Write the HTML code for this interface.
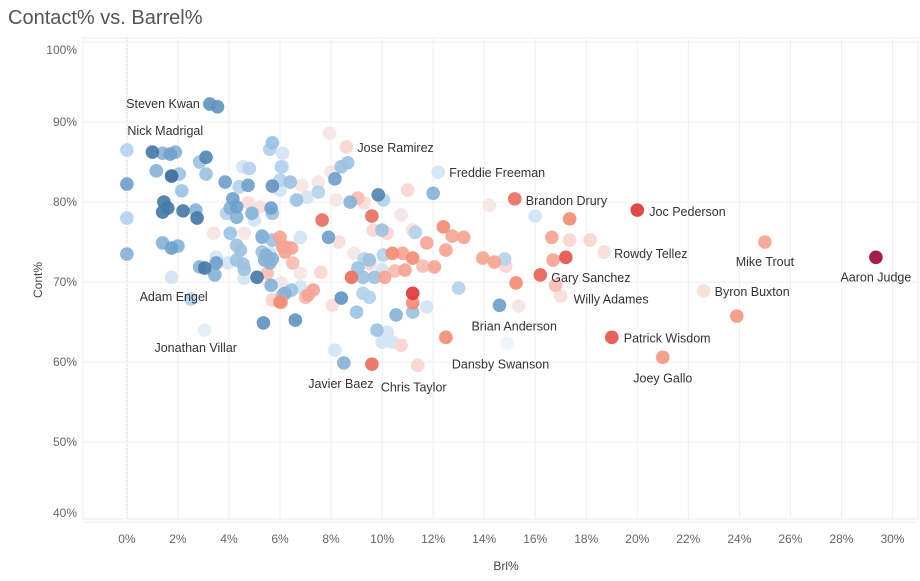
<!DOCTYPE html>
<html><head><meta charset="utf-8"><style>
body{margin:0;background:#fff;}
svg{display:block;font-family:"Liberation Sans",sans-serif;}
</style></head><body>
<svg id="chart" width="920" height="581">
<text x="8" y="24" font-size="20" fill="#555">Contact% vs. Barrel%</text>
<g id="grid"></g><g id="pts"></g><g id="lbls"></g><g id="axes"></g>
<text x="506" y="570" font-size="12" fill="#444" text-anchor="middle">Brl%</text>
<text transform="translate(42,280) rotate(-90)" font-size="12" fill="#444" text-anchor="middle">Cont%</text>
</svg>
<script>
const xTicks=[0,2,4,6,8,10,12,14,16,18,20,22,24,26,28,30];
const yTicks=[40,50,60,70,80,90,100];
const brl=[3.25,3.55,1.0,8.6,12.2,15.2,20.0,18.7,25.0,29.35,16.2,16.8,22.6,23.9,19.0,21.0,12.5,11.4,9.6,8.5,2.5,3.05,
0,0,0,0,1.4,1.7,1.9,1.15,1.75,2.05,2.15,3.1,2.85,3.1,3.85,4.4,4.75,4.55,4.8,1.45,1.6,1.4,2.2,2.7,2.75,4.15,4.3,4.05,4.3,3.9,4.75,5.2,4.9,5.0,5.65,5.7,5.7,6.0,6.1,5.7,5.6,6.1,
3.4,4.05,4.6,5.3,5.7,6.1,6.0,1.4,1.75,2.0,3.5,3.5,3.95,4.3,4.45,4.6,4.6,2.85,3.05,3.45,1.75,5.1,5.4,5.6,5.65,5.5,6.05,6.0,6.2,5.7,5.35,6.6,
6.05,6.4,6.0,6.85,6.65,7.05,7.5,7.5,8.15,8.4,8.65,8.0,7.95,8.2,8.75,9.05,9.3,9.85,10.05,11.0,12.0,10.75,7.65,9.6,9.65,10.2,10.0,11.2,11.3,12.4,12.75,12.5,11.75,
7.9,8.3,6.8,6.45,6.2,4.3,5.3,8.8,8.4,8.05,9.0,9.25,9.5,9.7,9.25,9.05,9.9,10.1,9.5,10.05,9.5,10.4,10.8,11.2,10.9,10.5,10.0,11.2,11.2,11.2,11.75,10.55,9.8,10.2,10.0,10.4,10.75,8.15,
12.05,11.6,13.0,6.1,6.45,7.1,7.3,5.7,6.05,6.8,4.55,6.8,5.7,5.45,5.3,5.6,6.5,6.2,
13.2,14.2,13.95,14.4,14.85,15.25,14.8,14.6,15.35,14.9,16.0,16.65,17.35,17.35,16.7,17.2,18.15,17.0,7.0,7.6,8.9,9.3];
const cont=[92.25,91.9,86.25,86.9,83.75,80.4,79.0,73.75,75.0,73.1,70.9,69.6,68.9,65.75,63.1,60.6,63.1,59.6,59.75,59.9,67.9,64.0,
86.5,82.25,78.0,73.5,86.1,86.0,86.25,83.9,83.25,83.5,81.4,85.6,85.0,83.5,82.5,81.9,82.1,84.4,84.2,80.0,79.25,78.75,78.9,79.0,78.0,80.4,79.4,79.25,78.1,78.6,79.9,79.4,78.6,77.75,79.25,78.6,82.0,82.75,84.4,87.4,86.6,86.1,
76.1,76.1,76.1,75.6,75.25,74.4,75.6,74.9,74.25,74.5,73.1,72.4,72.4,72.75,74.0,71.6,70.5,71.9,71.75,70.9,70.6,70.6,72.75,72.4,69.6,71.1,69.9,67.5,68.6,67.75,64.9,65.25,
84.4,82.5,81.5,82.1,80.25,80.6,82.5,81.25,82.9,84.4,84.9,83.75,88.6,80.25,80.0,80.5,79.9,80.9,80.25,81.5,81.1,78.4,77.75,78.25,76.5,76.1,76.5,76.5,76.2,76.9,75.75,74.0,74.9,
75.6,75.0,75.6,74.25,74.4,74.6,75.75,70.6,68.0,67.1,66.25,68.6,68.1,70.6,70.6,71.75,71.9,70.6,72.75,73.4,72.3,73.6,73.6,73.0,71.5,71.4,71.5,68.6,67.4,66.25,66.9,65.9,64.0,63.75,62.5,62.5,62.1,61.5,
71.9,72.0,69.25,68.4,69.0,68.4,69.0,67.75,67.5,69.4,72.25,71.1,72.9,73.4,73.75,73.6,72.4,73.75,
75.6,79.6,73.0,72.5,72.0,69.9,72.9,67.1,67.0,62.4,78.25,75.6,77.9,75.25,72.75,73.1,75.25,68.25,68.1,71.2,73.6,72.9];
const colorVal=[-0.6,-0.6,-0.8,0.2,-0.1,0.6,0.8,0.15,0.4,1.0,0.65,0.3,0.15,0.45,0.7,0.45,0.5,0.2,0.6,-0.4,-0.2,-0.05,
-0.2,-0.5,-0.2,-0.4,-0.4,-0.5,-0.4,-0.4,-0.9,-0.3,-0.3,-0.7,-0.3,-0.3,-0.5,-0.2,-0.5,-0.1,-0.2,-0.8,-0.8,-0.8,-0.8,-0.4,-0.8,-0.5,-0.5,-0.4,-0.4,-0.2,0.15,0.15,-0.4,-0.1,-0.5,-0.3,-0.6,-0.2,-0.1,-0.3,-0.2,-0.1,
0.1,-0.3,0.1,-0.4,-0.3,0.4,0.4,-0.4,-0.5,-0.4,-0.1,-0.5,-0.1,-0.3,-0.3,-0.3,-0.1,-0.4,-0.8,-0.4,-0.1,-0.8,-0.4,-0.4,-0.4,0.3,0.1,0.5,-0.4,0.2,-0.6,-0.6,
-0.2,-0.3,-0.1,0.1,-0.3,-0.1,0.1,-0.2,-0.5,-0.3,-0.3,0.1,0.1,0.1,-0.4,0.3,0.15,-0.7,-0.2,0.2,-0.4,0.1,0.6,0.6,0.2,0.2,-0.3,0.15,-0.2,0.5,0.4,0.4,0.4,
-0.5,0.15,-0.1,0.4,0.4,-0.3,-0.4,0.6,-0.6,0.15,-0.3,-0.2,-0.2,-0.3,-0.3,-0.3,0.0,0.4,-0.3,-0.2,0.2,0.5,0.4,0.5,0.4,0.3,-0.1,0.8,0.5,-0.3,-0.1,-0.4,-0.3,-0.1,-0.1,-0.1,0.2,-0.1,
0.4,0.3,-0.2,-0.3,-0.3,0.4,0.4,0.2,0.4,-0.1,-0.3,0.1,-0.4,-0.4,-0.3,-0.1,0.3,0.4,
0.4,0.1,0.4,0.4,0.2,0.5,-0.2,-0.5,0.1,0.0,-0.1,0.4,0.5,0.2,0.4,0.7,0.2,0.15,0.3,0.2,0.1,-0.2];
const labelNames=["Steven Kwan","Nick Madrigal","Jose Ramirez","Freddie Freeman","Brandon Drury","Joc Pederson","Rowdy Tellez","Mike Trout","Aaron Judge","Gary Sanchez","Willy Adames","Byron Buxton","Brian Anderson","Patrick Wisdom","Joey Gallo","Dansby Swanson","Javier Baez","Chris Taylor","Adam Engel","Jonathan Villar"];
const labelBrl=[3.25,1.0,8.6,12.2,15.2,20.0,18.7,25.0,29.35,16.2,16.8,22.6,14.6,19.0,21.0,12.5,9.6,11.4,2.5,3.05];
const labelCont=[92.25,86.25,86.9,83.75,80.4,79.0,73.75,75.0,73.1,70.9,69.6,68.9,67.1,63.1,60.6,63.1,59.75,59.6,67.9,64.0];
const labelPos=[["end",-10,4],["start",-25,-17],["start",11,5],["start",11,5],["start",11,6],["start",12,6],["start",10,6],["middle",0,24],["middle",0,24],["start",11,7],["start",18,18],["start",11,5],["start",-28,25],["start",12,5],["middle",0,25],["start",6,31],["middle",-31,24],["start",-37,26],["end",17,2],["middle",-9,22]];
const X0=-1.72,X1=31,Y0=40.4,Y1=100.5,L=83,R=918,T=38,B=519;
const xs=v=>L+(v-X0)/(X1-X0)*(R-L);
const ys=v=>B-(v-Y0)/(Y1-Y0)*(B-T);
const NS="http://www.w3.org/2000/svg";
function mk(tag,attrs,parent){const e=document.createElementNS(NS,tag);for(const k in attrs)e.setAttribute(k,attrs[k]);parent.appendChild(e);return e;}
const stops=[[-1,[44,95,142]],[-0.5,[111,161,204]],[-0.2,[179,211,236]],[0,[238,245,251]],[0.2,[251,213,207]],[0.5,[242,140,116]],[0.8,[224,56,58]],[1,[156,12,51]]];
function col(c){for(let i=0;i<stops.length-1;i++){const a=stops[i],b=stops[i+1];if(c<=b[0]){const t=(c-a[0])/(b[0]-a[0]);const m=a[1].map((v,j)=>Math.round(v+(b[1][j]-v)*t));return `rgb(${m})`;}}return 'rgb(156,12,51)';}
const grid=document.getElementById('grid'),axes=document.getElementById('axes');
mk('rect',{x:L,y:T,width:R-L,height:B-T,fill:'none',stroke:'#eee'},grid);
xTicks.forEach(t=>{const x=xs(t);
 const l=mk('line',{x1:x,x2:x,y1:T,y2:B,stroke:t===0?'#ccc':'#efefef','stroke-dasharray':t===0?'1,1':'none'},grid);
 
 const tx=mk('text',{x:x,y:543,'font-size':12,fill:'#666','text-anchor':'middle'},axes);tx.textContent=t+'%';
 });
yTicks.forEach(t=>{const y=ys(t);
 const l=mk('line',{x1:L,x2:R,y1:y,y2:y,stroke:'#efefef'},grid);
 
 const ty=Math.min(Math.max(y,T+12),B-6);
 const tx=mk('text',{x:77,y:ty+4,'font-size':12,fill:'#666','text-anchor':'end'},axes);tx.textContent=t+'%';
 });
const pts=document.getElementById('pts');
const order=brl.map((v,i)=>i).sort((a,b)=>Math.abs(colorVal[a])-Math.abs(colorVal[b]));
order.forEach(i=>{const c=mk('circle',{cx:xs(brl[i]),cy:ys(cont[i]),r:6.8,fill:col(colorVal[i]),'fill-opacity':0.92},pts);
 });
const lb=document.getElementById('lbls');
labelNames.forEach((n,i)=>{const p=labelPos[i];
 const t=mk('text',{x:xs(labelBrl[i])+p[1],y:ys(labelCont[i])+p[2],'font-size':12.5,fill:'#333','text-anchor':p[0]},lb);t.textContent=n;
 });
</script>
</body></html>
